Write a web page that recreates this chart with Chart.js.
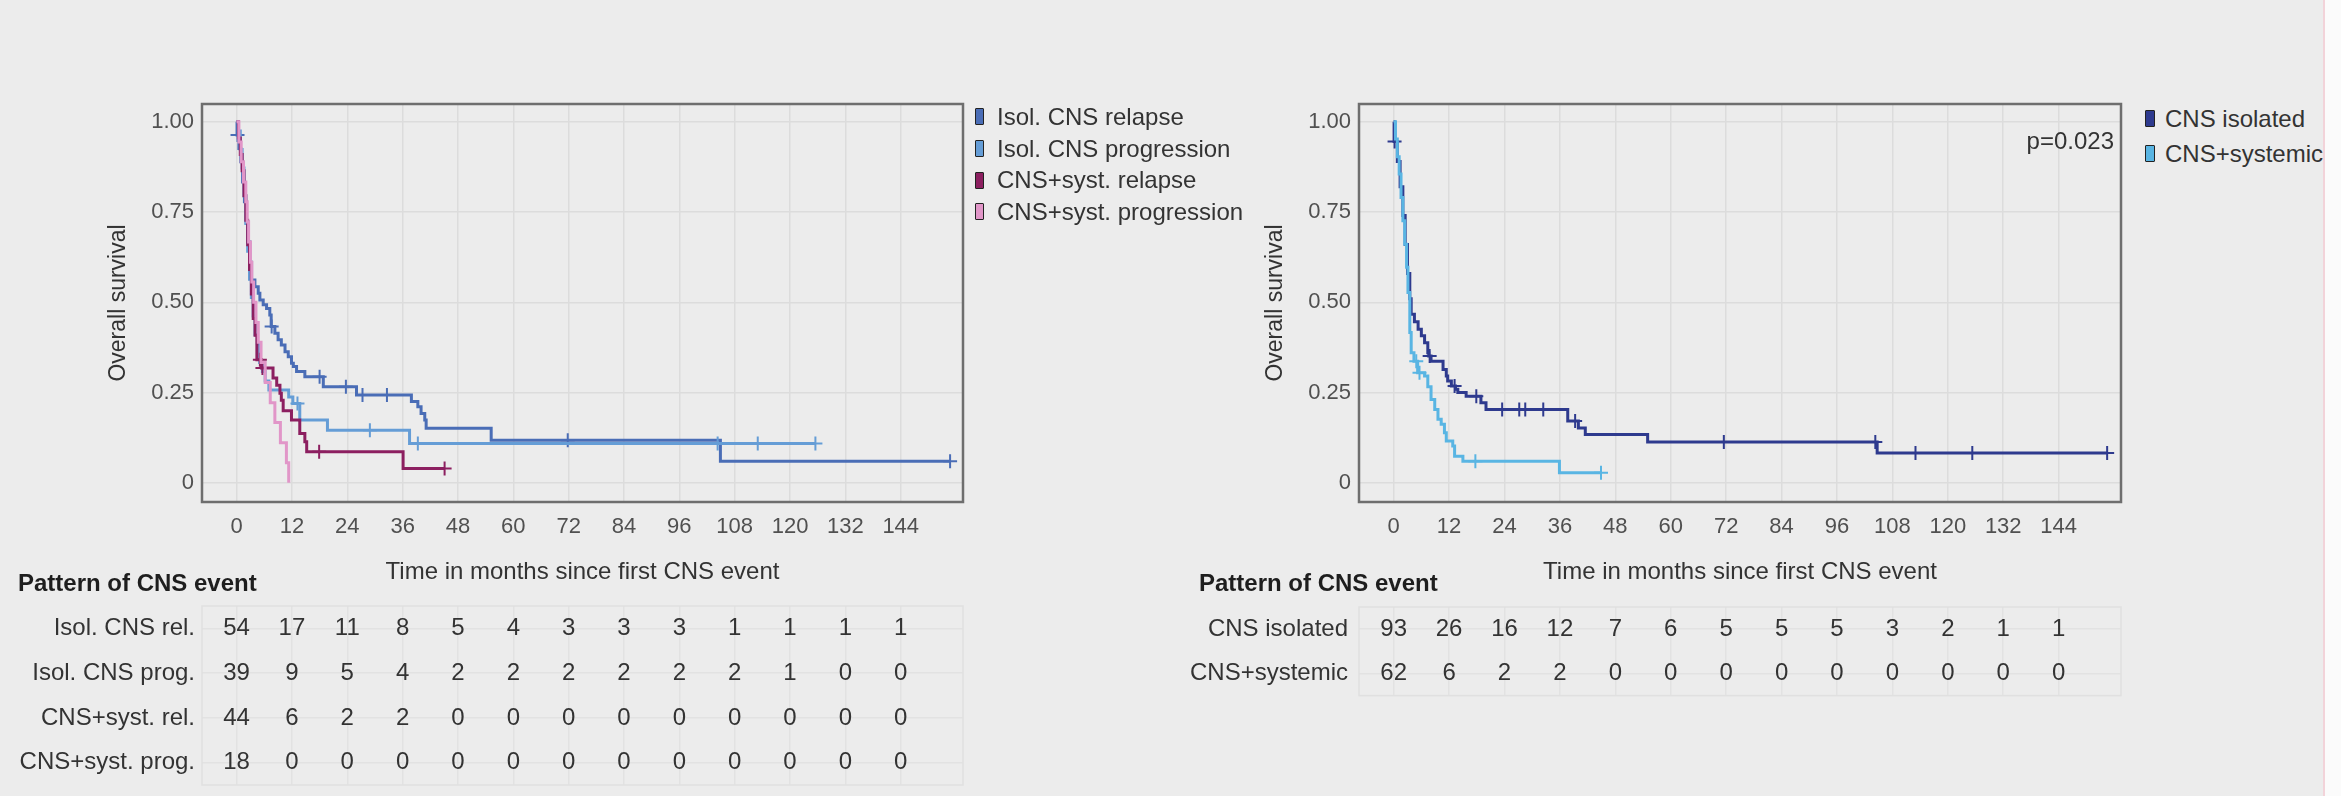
<!DOCTYPE html>
<html>
<head>
<meta charset="utf-8">
<script src="https://cdn.jsdelivr.net/npm/chart.js@4.4.1/dist/chart.umd.min.js"></script>
<style>
  body { margin: 0; background: #ececec; font-family: "Liberation Sans", Arial, sans-serif; }
  #page { position: relative; width: 2341px; height: 796px; overflow: hidden; }
  .pane { position: absolute; }
  .legend { position: absolute; color: #333; font-size: 24px; }
  .legend div { display: flex; align-items: center; white-space: nowrap; }
  .legend span { display: inline-block; box-sizing: border-box; }
  .legend span.key { border: 1.5px solid #222; border-radius: 1px; height: 17px; }
  .tabletitle { position: absolute; font-weight: bold; font-size: 24px; color: #1e1e1e; line-height: 28px; }
  #edge { position: absolute; left: 2323px; top: 0; width: 18px; height: 796px; background: #fbfbfb; border-left: 2px solid #f2d3d9; }
</style>
</head>
<body>
<div id="page">
  <canvas id="kmLeft" class="pane" width="975" height="514" style="left:0;top:80px"></canvas>
  <canvas id="riskLeft" class="pane" width="975" height="229" style="left:0;top:580px"></canvas>
  <canvas id="kmRight" class="pane" width="976" height="514" style="left:1157px;top:80px"></canvas>
  <canvas id="riskRight" class="pane" width="976" height="141" style="left:1157px;top:580px"></canvas>
  <div class="legend" id="legLeft" style="left:975px;top:101px"></div>
  <div class="legend" id="legRight" style="left:2145px;top:101px"></div>
  <div class="tabletitle" style="left:18px;top:569px">Pattern of CNS event</div>
  <div class="tabletitle" style="left:1199px;top:569px">Pattern of CNS event</div>
  <div id="edge"></div>
</div>
<script>
// x ticks (months) and y ticks
const months = [0, 12, 24, 36, 48, 60, 72, 84, 96, 108, 120, 132, 144];
const survTicks = [0, 0.25, 0.5, 0.75, 1];

// left panel: Kaplan-Meier steps (time in months, survival) + censor times
const isoRelT = [0, 0.1, 0.5, 0.9, 1.3, 1.7, 2.1, 2.5, 2.9, 3.25, 3.97, 4.69, 5.05, 5.77, 6.5, 7.2, 7.5, 8.3, 9.0, 9.7, 10.5, 11.2, 11.9, 12.3, 13.0, 14.8, 18.8, 26.0, 37.9, 39.3, 40.0, 40.8, 41.1, 55.2, 104.9, 154.7];
const isoRelS = [1.0, 0.963, 0.926, 0.889, 0.833, 0.778, 0.722, 0.667, 0.611, 0.562, 0.543, 0.525, 0.506, 0.493, 0.483, 0.465, 0.433, 0.414, 0.396, 0.382, 0.363, 0.349, 0.331, 0.322, 0.308, 0.294, 0.266, 0.243, 0.225, 0.211, 0.192, 0.174, 0.151, 0.118, 0.060, 0.060];
const isoRelCens = [0.2, 7.6, 18.0, 23.7, 27.3, 32.6, 71.8, 154.7];

const isoProgT = [0, 0.4, 0.8, 1.2, 1.6, 2.0, 2.4, 2.8, 3.2, 3.6, 4.0, 4.5, 5.0, 5.6, 6.2, 7.0, 11.3, 12.2, 13.7, 19.7, 37.5, 125.5];
const isoProgS = [1.0, 0.974, 0.923, 0.872, 0.795, 0.718, 0.641, 0.564, 0.513, 0.462, 0.41, 0.385, 0.333, 0.308, 0.282, 0.257, 0.238, 0.22, 0.174, 0.146, 0.109, 0.109];
const isoProgCens = [13.2, 28.9, 39.3, 104.3, 113.0, 125.5];

const sysRelT = [0, 0.4, 0.8, 1.2, 1.6, 2.0, 2.4, 2.8, 3.2, 3.6, 4.0, 4.4, 5.4, 7.9, 8.7, 9.4, 9.7, 10.1, 11.9, 13.7, 14.8, 15.2, 36.1, 45.1];
const sysRelS = [1.0, 0.955, 0.909, 0.864, 0.795, 0.727, 0.659, 0.591, 0.523, 0.455, 0.409, 0.341, 0.318, 0.29, 0.27, 0.248, 0.229, 0.2, 0.174, 0.137, 0.114, 0.086, 0.040, 0.040];
const sysRelCens = [5.05, 5.6, 17.9, 45.1];

const sysProgT = [0, 0.5, 1.0, 1.5, 2.0, 2.3, 2.6, 3.0, 3.3, 3.7, 4.2, 4.7, 5.3, 6.2, 7.3, 8.3, 9.5, 10.8, 11.3];
const sysProgS = [1.0, 0.944, 0.889, 0.833, 0.778, 0.722, 0.667, 0.611, 0.556, 0.5, 0.444, 0.389, 0.333, 0.278, 0.222, 0.167, 0.111, 0.056, 0.0];
const sysProgCens = [];

// right panel
const isoT = [0, 0.1, 0.8, 1.4, 2.0, 2.5, 3.0, 3.5, 3.8, 4.5, 5.3, 6.0, 6.7, 7.4, 7.6, 8.1, 10.7, 11.4, 11.7, 12.5, 13.4, 13.9, 15.7, 18.9, 20.0, 37.7, 40.0, 41.5, 55.0, 104.7, 154.5];
const isoS = [1.0, 0.945, 0.89, 0.82, 0.74, 0.66, 0.58, 0.51, 0.467, 0.446, 0.425, 0.407, 0.388, 0.36, 0.351, 0.337, 0.314, 0.296, 0.282, 0.268, 0.259, 0.25, 0.24, 0.222, 0.203, 0.171, 0.152, 0.134, 0.113, 0.083, 0.083];
const isoCens = [0.2, 7.8, 13.2, 17.9, 23.5, 27.2, 28.5, 32.4, 39.3, 71.5, 104.3, 113.0, 125.3, 154.5];

const sysT = [0, 0.4, 0.8, 1.2, 1.6, 2.0, 2.4, 2.8, 3.1, 3.5, 3.8, 4.4, 5.2, 6.7, 7.4, 8.1, 8.9, 9.6, 10.3, 11.0, 11.4, 12.8, 13.2, 15.0, 35.9, 44.9];
const sysS = [1.0, 0.952, 0.903, 0.855, 0.79, 0.726, 0.661, 0.597, 0.527, 0.416, 0.36, 0.337, 0.305, 0.296, 0.266, 0.231, 0.203, 0.176, 0.162, 0.139, 0.116, 0.102, 0.074, 0.06, 0.028, 0.028];
const sysCens = [4.9, 5.6, 17.7, 44.9];

// numbers at risk
const riskLeftGroups = ["Isol. CNS rel.", "Isol. CNS prog.", "CNS+syst. rel.", "CNS+syst. prog."];
const riskIsoRel = [54, 17, 11, 8, 5, 4, 3, 3, 3, 1, 1, 1, 1];
const riskIsoProg = [39, 9, 5, 4, 2, 2, 2, 2, 2, 2, 1, 0, 0];
const riskSysRel = [44, 6, 2, 2, 0, 0, 0, 0, 0, 0, 0, 0, 0];
const riskSysProg = [18, 0, 0, 0, 0, 0, 0, 0, 0, 0, 0, 0, 0];
const riskRightGroups = ["CNS isolated", "CNS+systemic"];
const riskIso = [93, 26, 16, 12, 7, 6, 5, 5, 5, 3, 2, 1, 1];
const riskSys = [62, 6, 2, 2, 0, 0, 0, 0, 0, 0, 0, 0, 0];

const family = "'Liberation Sans', Arial, sans-serif";
Chart.defaults.font.family = family;

function toPoints(t, s) {
  return t.map((x, i) => ({ x, y: s[i] }));
}

// survival value of a step curve at a given time (to put censor ticks on the line)
function survAt(t, s, time) {
  let v = s[0];
  for (let i = 0; i < t.length; i++) {
    if (t[i] <= time) v = s[i];
  }
  return v;
}

function curve(label, color, t, s, order) {
  return {
    label, data: toPoints(t, s), borderColor: color, backgroundColor: color,
    borderWidth: 3, stepped: true, pointRadius: 0, fill: false, order,
  };
}

function marks(color, t, s, cens, order) {
  return {
    label: "", censor: true, type: "scatter", showLine: false,
    data: cens.map((c) => ({ x: c, y: survAt(t, s, c) })),
    pointStyle: "cross", pointRadius: 7, pointBorderWidth: 2,
    borderColor: color, backgroundColor: color, order,
  };
}

const frame = (color, width) => ({
  id: "frame",
  afterDatasetsDraw(chart) {
    const { ctx, chartArea: a } = chart;
    ctx.save();
    ctx.strokeStyle = color;
    ctx.lineWidth = width;
    ctx.strokeRect(a.left, a.top, a.right - a.left, a.bottom - a.top);
    ctx.restore();
  },
});

function kmChart(id, datasets, extra) {
  return new Chart(document.getElementById(id), {
    type: "line",
    data: { datasets },
    options: {
      responsive: false, animation: false, events: [],
      layout: { padding: { top: 24, right: 12, bottom: 0, left: 0 } },
      plugins: { legend: { display: false }, tooltip: { enabled: false } },
      scales: {
        x: {
          type: "linear", min: -7.5, max: 157.5,
          afterBuildTicks: (s) => { s.ticks = months.map((v) => ({ value: v })); },
          afterFit: (s) => { s.height = 92; },
          ticks: { font: { size: 22 }, color: "#505050", padding: 12, maxRotation: 0, autoSkip: false },
          grid: { color: "#dcdcdc", lineWidth: 1.5, drawTicks: false },
          border: { display: false },
          title: {
            display: true, text: "Time in months since first CNS event",
            font: { size: 24 }, color: "#333", padding: { top: 0, bottom: 7 },
          },
        },
        y: {
          type: "linear", min: -0.053, max: 1.049,
          afterBuildTicks: (s) => { s.ticks = survTicks.map((v) => ({ value: v })); },
          afterFit: (s) => { s.width = 202; },
          ticks: {
            font: { size: 22 }, color: "#505050", padding: 8,
            callback: (v) => (v === 0 ? "0" : v.toFixed(2)),
          },
          grid: { color: "#dcdcdc", lineWidth: 1.5, drawTicks: false },
          border: { display: false },
          title: {
            display: true, text: "Overall survival",
            font: { size: 23 }, color: "#333", padding: { top: 105, bottom: 0 },
          },
        },
      },
    },
    plugins: [frame("#6e6e6e", 2.5)].concat(extra || []),
  });
}

function riskPlugin(rows) {
  return {
    id: "riskNumbers",
    afterDatasetsDraw(chart) {
      const { ctx, scales: { x, y } } = chart;
      ctx.save();
      ctx.font = "24px " + family;
      ctx.fillStyle = "#333";
      ctx.textAlign = "center";
      ctx.textBaseline = "middle";
      rows.forEach((row, r) => {
        row.forEach((n, j) => ctx.fillText(String(n), x.getPixelForValue(months[j]), y.getPixelForValue(r)));
      });
      ctx.restore();
    },
  };
}

function riskChart(id, groups, rows, padTop, labelPad) {
  return new Chart(document.getElementById(id), {
    type: "scatter",
    data: { datasets: [] },
    options: {
      responsive: false, animation: false, events: [],
      layout: { padding: { top: padTop, right: 12, bottom: 24, left: 0 } },
      plugins: { legend: { display: false }, tooltip: { enabled: false } },
      scales: {
        x: {
          type: "linear", min: -7.5, max: 157.5,
          afterBuildTicks: (s) => { s.ticks = months.map((v) => ({ value: v })); },
          afterFit: (s) => { s.height = 0; },
          ticks: { display: false },
          grid: { color: "#e2e2e2", lineWidth: 1.5, drawTicks: false },
          border: { display: false },
        },
        y: {
          type: "category", labels: groups, offset: true,
          afterFit: (s) => { s.width = 202; },
          ticks: { font: { size: 24 }, color: "#333", padding: labelPad },
          grid: { color: "#e2e2e2", lineWidth: 1.5, drawTicks: false, offset: false },
          border: { display: false },
        },
      },
    },
    plugins: [frame("#e0e0e0", 1.5), riskPlugin(rows)],
  });
}

// legend as html, built from the curve datasets
function htmlLegend(elId, chart, rowH, boxW, gap) {
  const el = document.getElementById(elId);
  chart.data.datasets.filter((d) => !d.censor).forEach((d) => {
    const row = document.createElement("div");
    row.style.height = rowH + "px";
    const box = document.createElement("span");
    box.className = "key";
    box.style.width = boxW + "px";
    box.style.marginRight = gap + "px";
    box.style.background = d.borderColor;
    const txt = document.createElement("span");
    txt.textContent = d.label;
    row.append(box, txt);
    el.append(row);
  });
}

const cRel = "#4a6db6", cProg = "#659dd6", cSysRel = "#8c1f60", cSysProg = "#e196c8";
const cIso = "#2e3a8e", cSys = "#59b5e3";

const leftChart = kmChart("kmLeft", [
  curve("Isol. CNS relapse", cRel, isoRelT, isoRelS, 4),
  curve("Isol. CNS progression", cProg, isoProgT, isoProgS, 3),
  curve("CNS+syst. relapse", cSysRel, sysRelT, sysRelS, 2),
  curve("CNS+syst. progression", cSysProg, sysProgT, sysProgS, 1),
  marks(cRel, isoRelT, isoRelS, isoRelCens, 4),
  marks(cProg, isoProgT, isoProgS, isoProgCens, 3),
  marks(cSysRel, sysRelT, sysRelS, sysRelCens, 2),
  marks(cSysProg, sysProgT, sysProgS, sysProgCens, 1),
]);

const pValue = {
  id: "pValue",
  afterDatasetsDraw(chart) {
    const { ctx, chartArea: a } = chart;
    ctx.save();
    ctx.font = "24px " + family;
    ctx.fillStyle = "#333";
    ctx.textAlign = "right";
    ctx.textBaseline = "middle";
    ctx.fillText("p=0.023", a.right - 7, a.top + 38);
    ctx.restore();
  },
};

const rightChart = kmChart("kmRight", [
  curve("CNS isolated", cIso, isoT, isoS, 2),
  curve("CNS+systemic", cSys, sysT, sysS, 1),
  marks(cIso, isoT, isoS, isoCens, 2),
  marks(cSys, sysT, sysS, sysCens, 1),
], [pValue]);

riskChart("riskLeft", riskLeftGroups, [riskIsoRel, riskIsoProg, riskSysRel, riskSysProg], 26, 7);
riskChart("riskRight", riskRightGroups, [riskIso, riskSys], 27, 11);

htmlLegend("legLeft", leftChart, 31.7, 9, 13);
htmlLegend("legRight", rightChart, 35, 10, 10);
</script>
</body>
</html>
